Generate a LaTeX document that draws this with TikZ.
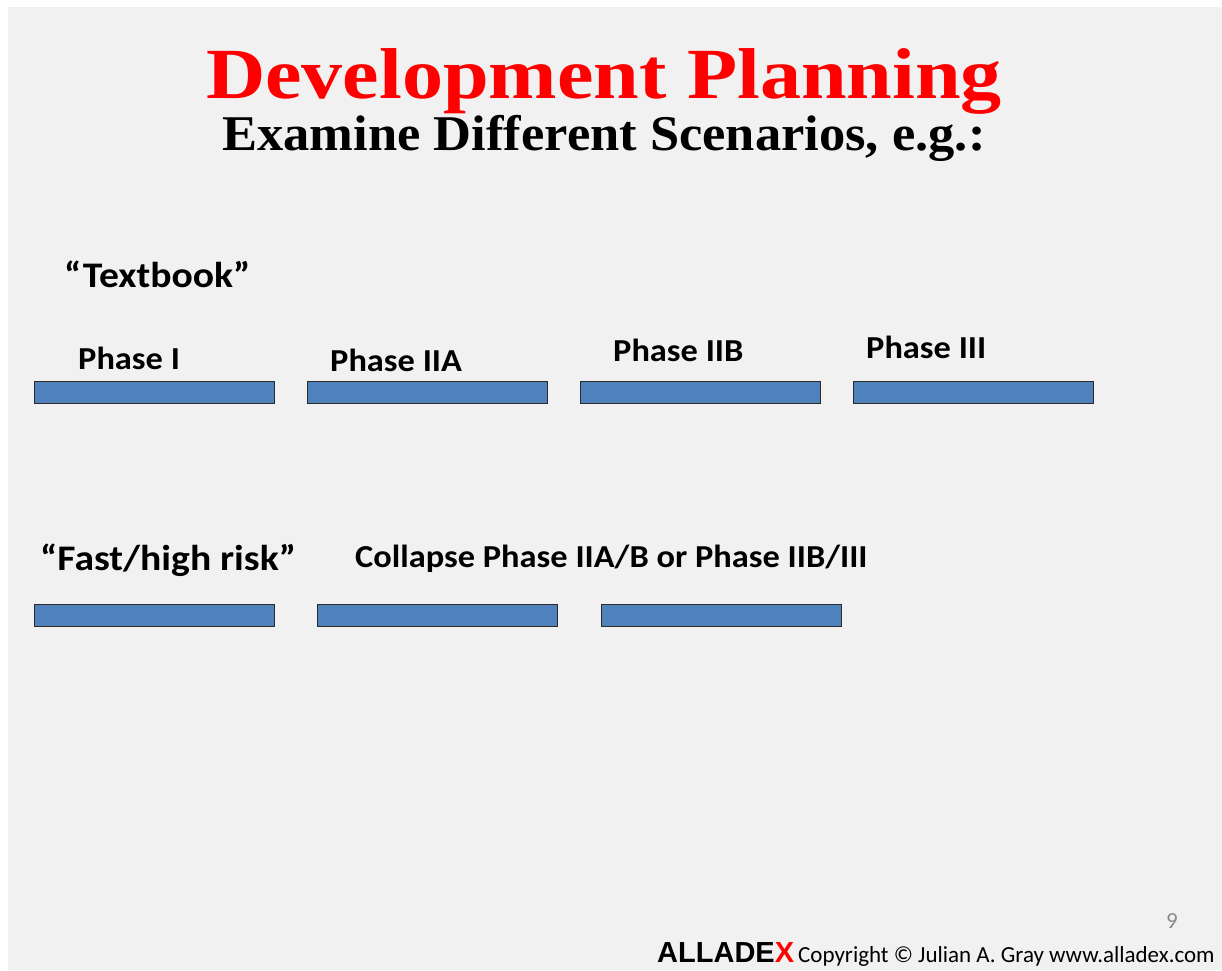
\documentclass[tikz,border=0pt]{standalone}
\usepackage{fontspec}
\setmainfont{Carlito}
\newfontfamily\titlefont[FakeStretch=1.14]{Liberation Serif}
\newfontfamily\subtitlefont[FakeStretch=1.05]{Liberation Serif}
\newfontfamily\headfont[FakeStretch=1.10]{Carlito}
\newfontfamily\labelfont[FakeStretch=1.075]{Carlito}
\newfontfamily\logofont{Liberation Sans}
\definecolor{slidebg}{HTML}{F1F1F1}
\definecolor{barblue}{HTML}{4F81BD}
\definecolor{barline}{HTML}{2B2B2B}
\definecolor{titlered}{HTML}{FF0000}
\definecolor{pagenum}{HTML}{8C8C8C}
\begin{document}
\begin{tikzpicture}[x=1pt,y=-1pt,
  phasebar/.style={draw=barline, fill=barblue, line width=1.3pt,
    minimum width=240pt, minimum height=22pt, inner sep=0pt, anchor=north west},
  heading/.style={font=\headfont\bfseries\fontsize{36}{36}\selectfont, anchor=base west, inner sep=0pt},
  phaselabel/.style={font=\labelfont\bfseries\fontsize{32}{32}\selectfont, anchor=base west, inner sep=0pt}]
  % page and slide background
  \useasboundingbox (0,0) rectangle (1222,970);
  \fill[white] (0,0) rectangle (1222,970);
  \fill[slidebg] (8,7) rectangle (1222,970);

  % titles
  \node[font=\titlefont\bfseries\fontsize{72}{72}\selectfont, text=titlered, anchor=base, inner sep=0pt]
    (title) at (604,98) {Development Planning};
  \node[font=\subtitlefont\bfseries\fontsize{50}{50}\selectfont, anchor=base, inner sep=0pt]
    (subtitle) at (604,150) {Examine Different Scenarios, e.g.:};

  % textbook scenario
  \node[heading] (textbook) at (64,287) {“Textbook”};
  \node[phaselabel] (l1) at (78,369) {Phase I};
  \node[phaselabel] (l2) at (330,371) {Phase IIA};
  \node[phaselabel] (l3) at (613,361) {Phase IIB};
  \node[phaselabel] (l4) at (866,358) {Phase III};
  \node[phasebar] (b1) at (34,381) {};
  \node[phasebar] (b2) at (307,381) {};
  \node[phasebar] (b3) at (580,381) {};
  \node[phasebar] (b4) at (853,381) {};

  % fast / high risk scenario
  \node[heading] (fast) at (40,570) {“Fast/high risk”};
  \node[phaselabel] (collapse) at (355,567) {Collapse Phase IIA/B or Phase IIB/III};
  \node[phasebar] (c1) at (34,604) {};
  \node[phasebar] (c2) at (317,604) {};
  \node[phasebar] (c3) at (601,604) {};

  % footer
  \node[font=\fontsize{23}{23}\selectfont, text=pagenum, anchor=base, inner sep=0pt] (pg) at (1172,928) {9};
  \node[font=\logofont\bfseries\fontsize{29}{29}\selectfont, anchor=base west, inner sep=0pt]
    (logo) at (657,962) {ALLADE\textcolor{titlered}{X}};
  \node[font=\fontsize{23}{23}\selectfont, anchor=base west, inner sep=0pt]
    (copy) at (798,962) {Copyright © Julian A. Gray www.alladex.com};
\end{tikzpicture}
\end{document}
